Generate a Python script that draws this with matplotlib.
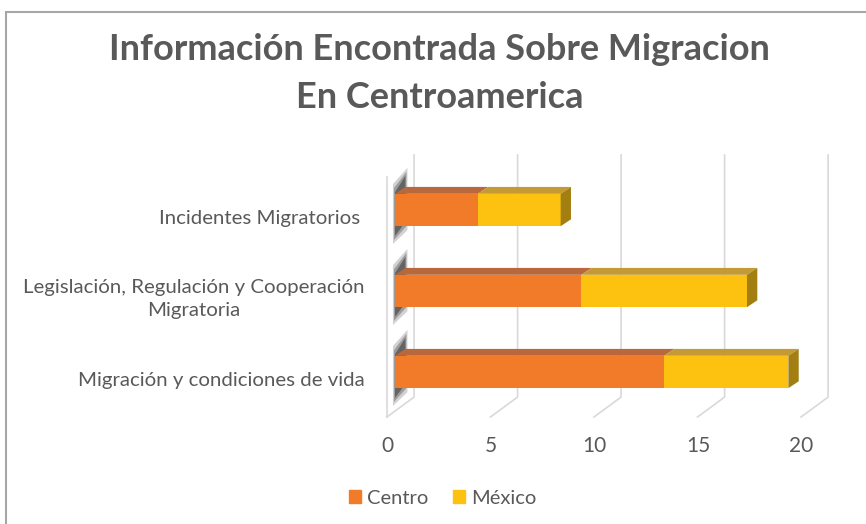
import matplotlib.pyplot as plt
from matplotlib.patches import Polygon, Rectangle, Patch

# datos (de abajo hacia arriba)
categorias = ['Migración y condiciones de vida',
              'Legislación, Regulación y Cooperación\nMigratoria',
              'Incidentes Migratorios ']
centro = [13, 9, 4]
mexico = [6, 8, 4]
ticks = [0, 5, 10, 15, 20]

gris_texto = '#595959'
gris_linea = '#d9d9d9'
naranja = '#f27b2a'
naranja_top = '#b9673d'
amarillo = '#fdc20f'
amarillo_top = '#c39a33'
amarillo_lado = '#a37f12'
fuente = 'Lato'

fig = plt.figure(figsize=(8.66, 5.24), dpi=100)
ax = fig.add_axes([0, 0, 1, 1])
ax.set_xlim(-19.08, 22.75)
ax.set_ylim(-1.877, 4.593)
ax.axis('off')

# marco del grafico
fig.patches.append(Rectangle((6 / 866, -0.1), 2, 1.1 - 12 / 524, transform=fig.transFigure,
                             fill=False, ec='#a6a6a6', lw=1.5))

# caja 3d: pared del fondo, suelo y pared izquierda
fondo_x, fondo_y0, fondo_y1 = 0.92, -0.31, 2.68
frente_x, frente_y0, frente_y1 = -0.39, -0.556, 2.41
for t in ticks:
    ax.plot([t + fondo_x, t + fondo_x, t + frente_x],
            [fondo_y1, fondo_y0, frente_y0], color=gris_linea, lw=1.2, zorder=1)
ax.plot([frente_x, frente_x], [frente_y0, frente_y1], color=gris_linea, lw=1.2, zorder=1)

# barras apiladas con efecto 3d
alto = 0.4
dx, dy = 0.5, 0.085
pos = list(range(len(categorias)))
ax.barh(pos, centro, height=alto, color=naranja, zorder=3)
ax.barh(pos, mexico, left=centro, height=alto, color=amarillo, zorder=3)

for i in pos:
    yb, yt = i - alto / 2, i + alto / 2
    # sombra difusa sobre la pared izquierda
    for k, a in enumerate([0.2, 0.3, 0.45]):
        s = 0.05 * (2 - k)
        ax.add_patch(Polygon([(0.0 - s, yb - 0.12 - s), (0.0 - s, yt + 0.02 + s),
                              (0.5 + s, yt + 0.22 + s), (0.5 + s, yb + 0.05 - s)],
                             closed=True, fc='#202020', ec='none', alpha=a, zorder=2))
    a0, a1 = 0, centro[i]
    b1 = centro[i] + mexico[i]
    ax.add_patch(Polygon([(a0, yt), (a1, yt), (a1 + dx, yt + dy), (a0 + dx, yt + dy)],
                         closed=True, color=naranja_top, lw=0, zorder=3))
    ax.add_patch(Polygon([(a1, yt), (b1, yt), (b1 + dx, yt + dy), (a1 + dx, yt + dy)],
                         closed=True, color=amarillo_top, lw=0, zorder=3))
    ax.add_patch(Polygon([(b1, yb), (b1, yt), (b1 + dx, yt + dy), (b1 + dx, yb + dy)],
                         closed=True, color=amarillo_lado, lw=0, zorder=3))

# etiquetas de categorias
for i, c in enumerate(categorias):
    ax.text(-1.45, i - 0.1, c, ha='right', va='center', multialignment='center',
            fontsize=14.7, color=gris_texto, family=fuente, linespacing=1.45)

# etiquetas del eje x
for t in ticks:
    ax.text(t - 0.37, -0.92, str(t), ha='center', va='center',
            fontsize=15, color=gris_texto, family=fuente)

# titulo
fig.text(0.508, 1 - 50 / 524, 'Información Encontrada Sobre Migracion',
         ha='center', va='center', fontsize=26, fontweight='bold', color=gris_texto, family=fuente)
fig.text(0.508, 1 - 97 / 524, 'En Centroamerica',
         ha='center', va='center', fontsize=26, fontweight='bold', color=gris_texto, family=fuente)

# leyenda
handles = [Patch(color=naranja, label='Centro'), Patch(color=amarillo, label='México')]
leg = fig.legend(handles=handles, loc='center', bbox_to_anchor=(0.511, 1 - 498 / 524), ncol=2,
                 frameon=False, handlelength=0.6, handleheight=0.6, handletextpad=0.3,
                 columnspacing=1.2, prop={'family': fuente, 'size': 14.5})
for t in leg.get_texts():
    t.set_color(gris_texto)

fig.savefig('out.png', dpi=100)
